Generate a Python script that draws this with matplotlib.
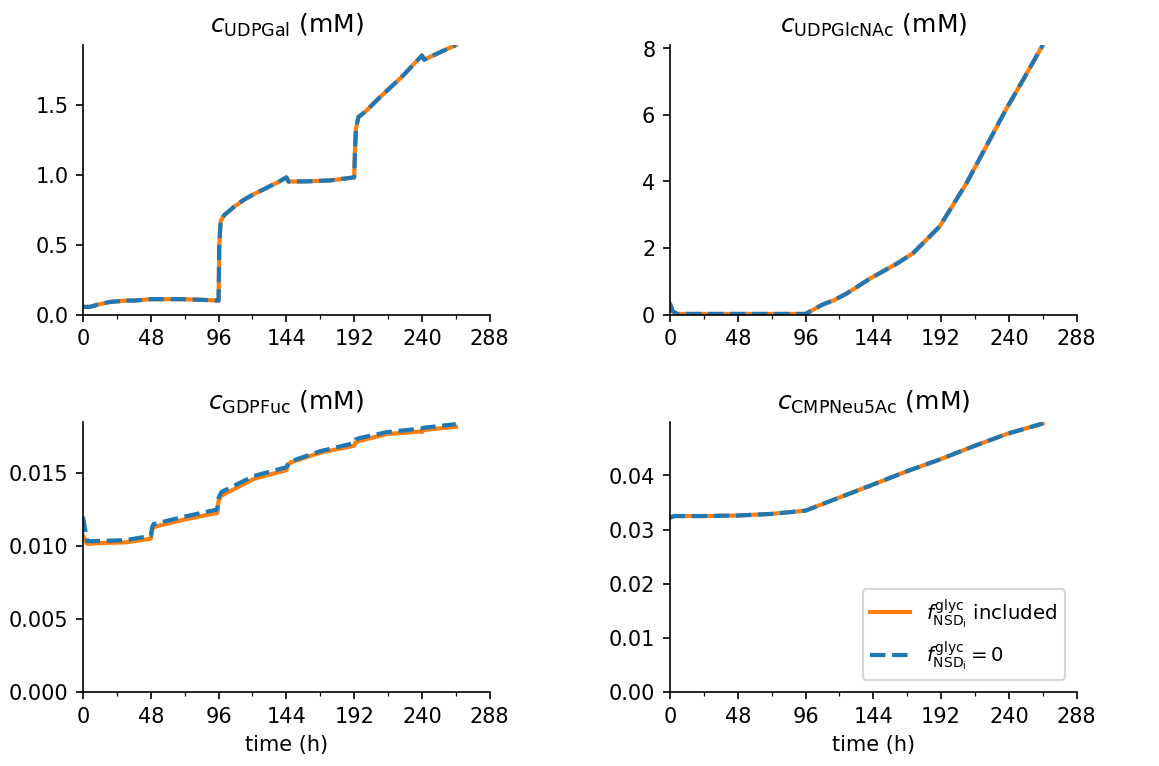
import matplotlib
matplotlib.use("Agg")
import matplotlib.pyplot as plt
from matplotlib.ticker import MultipleLocator

# UDP-Gal (same for both cases)
t_gal = [0, 5, 10, 19, 30, 36, 48, 60, 71, 85, 95, 96, 96.5, 97.5, 100, 107, 114, 121, 130, 138, 144, 145.5, 150, 160, 175, 192,
         192.7, 193.3, 195, 200, 210, 225, 240, 241.5, 250, 264]
c_gal = [0.055, 0.055, 0.07, 0.09, 0.10, 0.10, 0.11, 0.11, 0.11, 0.105, 0.10, 0.10, 0.50, 0.67, 0.71, 0.77, 0.82, 0.86, 0.905, 0.945, 0.98, 0.95, 0.95, 0.952, 0.958, 0.98,
         1.20, 1.33, 1.41, 1.45, 1.55, 1.69, 1.85, 1.82, 1.86, 1.925]

# UDP-GlcNAc
t_glc = [0, 2, 5, 48, 96, 108, 116, 125, 142, 161, 172, 191, 210, 224, 238, 250, 264]
c_glc = [0.33, 0.10, 0.02, 0.02, 0.02, 0.30, 0.43, 0.63, 1.09, 1.54, 1.84, 2.65, 3.95, 5.06, 6.17, 7.05, 8.1]

# GDP-Fuc, f included (orange) and f = 0 (blue)
t_fuc = [0, 3, 12, 30, 48, 49, 50, 71, 95, 96, 98, 121, 144, 145, 147, 168, 192, 193, 196, 215, 239, 240, 241, 264]
c_fuc_inc = [0.0107, 0.01015, 0.0102, 0.01025, 0.0105, 0.0111, 0.0113, 0.0118, 0.01227, 0.0131, 0.01345, 0.0146, 0.0152, 0.0155, 0.01573,
             0.0164, 0.01687, 0.0171, 0.01721, 0.01767, 0.01785, 0.0178, 0.01795, 0.01817]
c_fuc_zero = [0.0120, 0.01033, 0.01035, 0.0104, 0.0107, 0.0113, 0.0115, 0.0120, 0.0125, 0.0133, 0.0137, 0.0148, 0.0154, 0.0156, 0.0158,
              0.0165, 0.01705, 0.0173, 0.0174, 0.0178, 0.01805, 0.01805, 0.0181, 0.01835]

# CMP-Neu5Ac
t_neu = [0, 3, 24, 48, 72, 96, 120.7, 144, 168, 191, 215, 238.5, 264]
c_neu = [0.0322, 0.0325, 0.0325, 0.0326, 0.0329, 0.0335, 0.0360, 0.03834, 0.0408, 0.04295, 0.0454, 0.04767, 0.0496]

titles = [r"$c_{\mathrm{UDPGal}}$ (mM)", r"$c_{\mathrm{UDPGlcNAc}}$ (mM)",
          r"$c_{\mathrm{GDPFuc}}$ (mM)", r"$c_{\mathrm{CMPNeu5Ac}}$ (mM)"]
lab_inc = r"$f^{\mathrm{glyc}}_{\mathrm{NSD_i}}$ included"
lab_zero = r"$f^{\mathrm{glyc}}_{\mathrm{NSD_i}} = 0$"

series = [
    (t_gal, c_gal, c_gal, 1.925, [0, 0.5, 1.0, 1.5], "{:.1f}"),
    (t_glc, c_glc, c_glc, 8.1, [0, 2, 4, 6, 8], "{:.0f}"),
    (t_fuc, c_fuc_inc, c_fuc_zero, 0.01847, [0, 0.005, 0.010, 0.015], "{:.3f}"),
    (t_neu, c_neu, c_neu, 0.0498, [0, 0.01, 0.02, 0.03, 0.04], "{:.2f}"),
]

fig, axes = plt.subplots(2, 2, figsize=(1159 / 150, 766.2 / 150), dpi=150)
fig.subplots_adjust(left=0.0716, right=0.929, top=0.941, bottom=0.0966, wspace=0.443, hspace=0.40)

for i, ax in enumerate(axes.flat):
    t, y_inc, y_zero, ytop, yt, fmt = series[i]
    ax.plot(t, y_inc, color="tab:orange", lw=2, label=lab_inc)
    ax.plot(t, y_zero, color="tab:blue", lw=2, ls="--", label=lab_zero)
    ax.set_xlim(0, 288)
    ax.set_ylim(0, ytop)
    ax.set_yticks(yt)
    ax.set_yticklabels([fmt.format(v) for v in yt])
    ax.xaxis.set_major_locator(MultipleLocator(48))
    ax.xaxis.set_minor_locator(MultipleLocator(24))
    ax.spines["top"].set_visible(False)
    ax.spines["right"].set_visible(False)
    ax.set_title(titles[i], fontsize=12)
    if i >= 2:
        ax.set_xlabel("time (h)")

axes[1, 1].legend(loc="lower right", fontsize=9.5, borderaxespad=0.6)

plt.savefig("out.png", dpi=150)
